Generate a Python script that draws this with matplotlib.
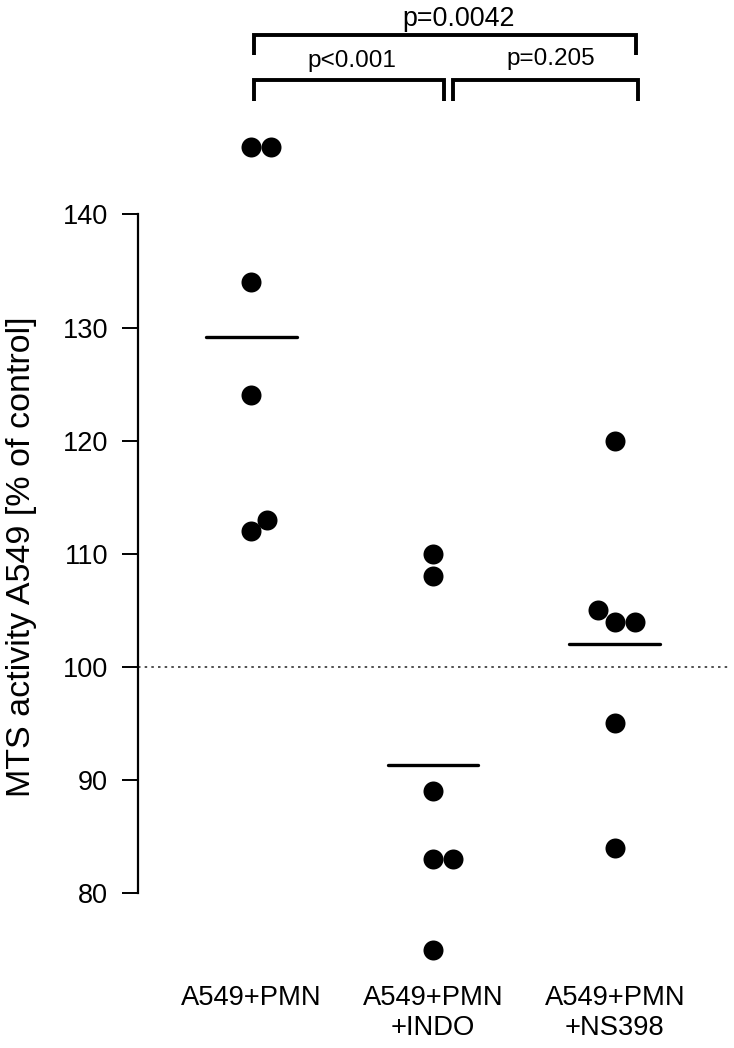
import matplotlib
matplotlib.use("Agg")
import matplotlib.pyplot as plt
import numpy as np

plt.rcParams["font.family"] = ["Liberation Sans", "DejaVu Sans"]

# data
groups = ["A549+PMN", "A549+PMN\n+INDO", "A549+PMN\n+NS398"]
pmn = [146, 146, 134, 124, 112, 113]
indo = [110, 108, 89, 83, 83, 75]
ns398 = [120, 105, 104, 104, 95, 84]
# horizontal dodge of overlapping dots (category units)
pmn_dx = [0.0, 0.11, 0.0, 0.0, 0.0, 0.09]
indo_dx = [0.0, 0.0, 0.0, 0.0, 0.11, 0.0]
ns398_dx = [0.0, -0.095, 0.0, 0.11, 0.0, 0.0]

comparisons = [(0, 2, "p=0.0042"), (0, 1, "p<0.001"), (1, 2, "p=0.205")]

values = [pmn, indo, ns398]
offsets = [pmn_dx, indo_dx, ns398_dx]

fig = plt.figure(figsize=(7.34, 10.48), dpi=100)
ax = fig.add_axes([138 / 734, 1 - 975 / 1048, 592 / 734, 855 / 1048])

for i, (vals, dx) in enumerate(zip(values, offsets)):
    ax.plot(i + np.array(dx), vals, "o", color="black", markersize=14.4,
            markeredgewidth=0, clip_on=False)
    m = np.mean(vals)
    ax.plot([i - 0.25, i + 0.25], [m, m], color="black", lw=2.4,
            solid_capstyle="round")

ax.axhline(100, color="#333333", lw=1.2, linestyle=(0, (1.5, 2.5)))

ax.set_xlim(-0.621, 2.632)
ax.set_ylim(72.75, 148.35)
ax.set_yticks([80, 90, 100, 110, 120, 130, 140])
ax.tick_params(axis="y", length=11.5, width=1.4, pad=10, labelsize=19.5)
ax.set_xticks([0, 1, 2])
ax.set_xticklabels(groups, fontsize=19.7)
ax.tick_params(axis="x", length=0, pad=7)

for s in ["top", "right", "bottom"]:
    ax.spines[s].set_visible(False)
ax.spines["left"].set_bounds(80, 140)
ax.spines["left"].set_linewidth(1.6)

fig.text(22 / 734, 1 - 557 / 1048, "MTS activity A549 [% of control]",
         rotation=90, ha="center", va="center", fontsize=24.5)

# significance brackets
def bracket(x0, x1, ytop, ybot, label, tx, ty, fs):
    ax.plot([x0, x0, x1, x1], [ybot, ytop, ytop, ybot], color="black",
            lw=2.8, clip_on=False, solid_joinstyle="miter",
            solid_capstyle="butt")
    ax.text(tx, ty, label, ha="center", va="baseline", fontsize=fs)

bracket(0.016, 2.115, 155.86, 154.09, comparisons[0][2], 1.14, 156.7, 19.4)
bracket(0.016, 1.06, 151.88, 150.03, comparisons[1][2], 0.555, 153.0, 17.5)
bracket(1.11, 2.126, 151.88, 150.03, comparisons[2][2], 1.648, 153.2, 17.5)

fig.savefig("out.png", dpi=100)
